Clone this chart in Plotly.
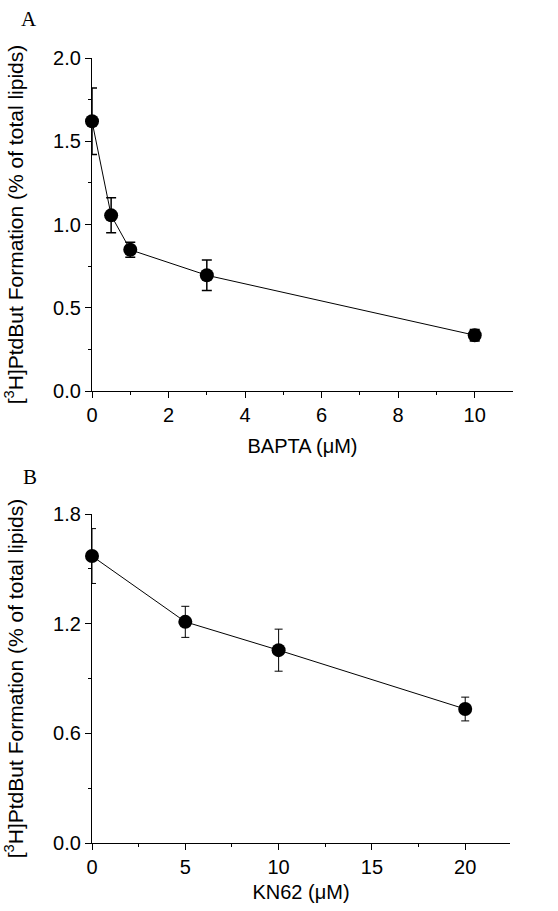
import plotly.graph_objects as go

# Panel A data
bapta_x = [0, 0.5, 1, 3, 10]
bapta_y = [1.62, 1.055, 0.848, 0.695, 0.335]
bapta_err = [0.20, 0.105, 0.045, 0.092, 0.035]

# Panel B data
kn62_x = [0, 5, 10, 20]
kn62_y = [1.57, 1.21, 1.055, 0.733]
kn62_err = [0.15, 0.085, 0.115, 0.065]

W, H = 558, 911
fig = go.Figure()

def add_series(x, y, e, xa, ya, thick, capw):
    fig.add_trace(go.Scatter(
        x=x, y=y, mode="lines+markers", xaxis=xa, yaxis=ya,
        line=dict(color="black", width=1),
        marker=dict(color="black", size=14),
        error_y=dict(type="data", array=e, visible=True, color="black", thickness=thick, width=capw),
        cliponaxis=False, showlegend=False))

add_series(bapta_x, bapta_y, bapta_err, "x", "y", 1.5, 5)
add_series(kn62_x, kn62_y, kn62_err, "x2", "y2", 1.0, 4)

SANS = "Liberation Sans, Arial"
tickfont = dict(family=SANS, size=20, color="black")
xtitlefont = dict(family=SANS, size=20, color="black")
ytitlefont = dict(family=SANS, size=21, color="black")
ytitle = "[<sup>3</sup>H]PtdBut Formation (% of total lipids)"

common_axis = dict(showline=True, linecolor="black", linewidth=1.2, ticks="outside",
                   ticklen=6, tickwidth=1, tickcolor="black", showgrid=False, zeroline=False,
                   tickfont=tickfont, automargin=False)

xd = [92 / W, 513 / W]
xd2 = [92 / W, 510 / W]
yA = [1 - 391 / H, 1 - 58 / H]
yB = [1 - 843 / H, 1 - 514 / H]

minor_style = dict(ticklen=3, ticks="outside", tickcolor="black", tickwidth=1)

fig.update_layout(
    width=W, height=H, margin=dict(l=0, r=0, t=0, b=0),
    paper_bgcolor="white", plot_bgcolor="white",
    xaxis=dict(common_axis, domain=xd, range=[0, 11.0], tickvals=[0, 2, 4, 6, 8, 10],
               minor=dict(minor_style, tickvals=[1, 3, 5, 7, 9]),
               anchor="y", title=dict(text="BAPTA (μM)", font=xtitlefont, standoff=13)),
    yaxis=dict(common_axis, domain=yA, range=[0, 2.0], tickvals=[0, 0.5, 1.0, 1.5, 2.0],
               ticktext=["0.0", "0.5", "1.0", "1.5", "2.0"],
               minor=dict(minor_style, tickvals=[0.25, 0.75, 1.25, 1.75]),
               anchor="x", title=dict(text=ytitle, font=ytitlefont, standoff=23)),
    xaxis2=dict(common_axis, domain=xd2, range=[0, 22.4], tickvals=[0, 5, 10, 15, 20],
                minor=dict(minor_style, tickvals=[2.5, 7.5, 12.5, 17.5]),
                anchor="y2", title=dict(text="KN62 (μM)", font=xtitlefont, standoff=7)),
    yaxis2=dict(common_axis, domain=yB, range=[0, 1.8], tickvals=[0, 0.6, 1.2, 1.8],
                ticktext=["0.0", "0.6", "1.2", "1.8"],
                minor=dict(minor_style, tickvals=[0.3, 0.9, 1.5]),
                anchor="x2", title=dict(text=ytitle, font=ytitlefont, standoff=23)),
)

fig.add_annotation(text="A", x=29 / W, y=1 - 19 / H, xref="paper", yref="paper", showarrow=False,
                   xanchor="center", yanchor="middle",
                   font=dict(family="Liberation Serif, Times New Roman", size=21, color="black"))
fig.add_annotation(text="B", x=30 / W, y=1 - 477 / H, xref="paper", yref="paper", showarrow=False,
                   xanchor="center", yanchor="middle",
                   font=dict(family="Liberation Serif, Times New Roman", size=21, color="black"))

fig.write_html("out.html", config={"displayModeBar": False},
               post_script="document.body.style.margin='0px';document.body.style.overflow='hidden';")
